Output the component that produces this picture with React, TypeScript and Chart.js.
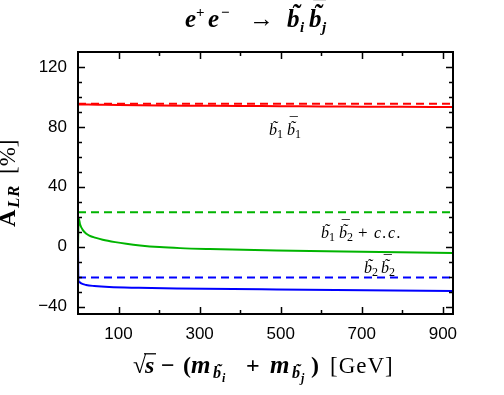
import React, { useEffect, useRef } from "react";
import { Chart, registerables } from "chart.js";

Chart.register(...registerables);

// ---- data ----
const xTicks = [0, 100, 200, 300, 400, 500, 600, 700, 800, 900];
const yTicks = [-40, -30, -20, -10, 0, 10, 20, 30, 40, 50, 60, 70, 80, 90, 100, 110, 120];

const redSolidX = [0, 50, 100, 200, 300, 400, 500, 600, 700, 800, 925];
const redSolidY = [95.0, 94.8, 94.6, 94.3, 94.1, 93.9, 93.8, 93.6, 93.5, 93.4, 93.3];
const redDashX = [0, 925];
const redDashY = [95.4, 95.4];

const greenSolidX = [0, 1.7, 5, 11.6, 19.8, 28, 42, 61, 92, 119, 153, 201, 252, 325, 490, 655, 925];
const greenSolidY = [0, 19, 15, 11.2, 8.8, 7.4, 6.0, 4.6, 3.0, 1.9, 0.8, -0.3, -1.0, -1.6, -2.6, -3.3, -4.2];
const greenDashX = [0, 925];
const greenDashY = [23.0, 23.0];

const blueSolidX = [0, 1, 3, 8, 20, 40, 77, 150, 243, 490, 925];
const blueSolidY = [0, -22.5, -23.6, -24.6, -25.6, -26.3, -27, -27.5, -27.9, -28.6, -29.6];
const blueDashX = [0, 925];
const blueDashY = [-20.7, -20.7];

const RED = "#ff0000";
const GREEN = "#00b400";
const BLUE = "#0000ff";

type Seg = { t: string; f: string; x: number; dy?: number; acc?: string[]; over?: number; ls?: number };

const SERIF = '"Liberation Serif", "Times New Roman", serif';

function fontSize(f: string) {
  return parseFloat(/(\d+(\.\d+)?)px/.exec(f)![1]);
}

// draw text pieces at given x offsets (relative to ox) on baseline oy
function drawAbs(ctx: CanvasRenderingContext2D, segs: Seg[], ox: number, oy: number) {
  for (const s of segs) {
    ctx.save();
    ctx.textAlign = "left";
    ctx.textBaseline = "alphabetic";
    ctx.font = s.f;
    (ctx as any).letterSpacing = (s.ls || 0) + "px";
    const w = ctx.measureText(s.t).width;
    const cx = ox + s.x;
    const by = oy + (s.dy || 0);
    ctx.fillText(s.t, cx, by);
    (ctx as any).letterSpacing = "0px";
    const size = fontSize(s.f);
    if (s.acc) {
      const offs = [0.2, 0.36];
      ctx.textAlign = "center";
      s.acc.forEach((a, i) => {
        ctx.fillText(a, cx + w * 0.5 + size * 0.1, by - size * offs[i]);
      });
    }
    if (s.over) {
      ctx.lineWidth = 1.3;
      ctx.beginPath();
      ctx.moveTo(cx - 1, by - size * 0.8);
      ctx.lineTo(cx + s.over, by - size * 0.8);
      ctx.stroke();
    }
    ctx.restore();
  }
}

const bi = (px: number) => `bold italic ${px}px ${SERIF}`;
const b = (px: number) => `bold ${px}px ${SERIF}`;
const rg = (px: number) => `${px}px ${SERIF}`;
const it = (px: number) => `italic ${px}px ${SERIF}`;

const decor = {
  id: "decor",
  afterDraw(chart: any) {
    const ctx: CanvasRenderingContext2D = chart.ctx;
    const { left, right, top, bottom } = chart.chartArea;
    const xs = chart.scales.x;
    const ys = chart.scales.y;
    ctx.save();
    ctx.strokeStyle = "#000";
    ctx.fillStyle = "#000";
    // ticks
    ctx.lineWidth = 1.5;
    ctx.beginPath();
    for (const v of xTicks) {
      if (v === 0) continue;
      const px = Math.round(xs.getPixelForValue(v)) + 0.5;
      const len = v % 200 === 100 ? 7 : 4;
      ctx.moveTo(px, bottom);
      ctx.lineTo(px, bottom - len);
      ctx.moveTo(px, top);
      ctx.lineTo(px, top + len);
    }
    for (const v of yTicks) {
      const py = Math.round(ys.getPixelForValue(v)) + 0.5;
      const len = v % 40 === 0 ? 7 : 4;
      ctx.moveTo(left, py);
      ctx.lineTo(left + len, py);
      ctx.moveTo(right, py);
      ctx.lineTo(right - len, py);
    }
    ctx.stroke();
    // frame
    ctx.lineWidth = 2;
    ctx.strokeRect(left, top, right - left, bottom - top);

    // curve labels
    const L = 16, S = 12;
    drawAbs(ctx, [
      { t: "b", f: it(L), x: 0, acc: ["˜"] },
      { t: "1", f: rg(S), x: 8, dy: 3 },
      { t: "b", f: it(L), x: 18, acc: ["˜", "¯"] },
      { t: "1", f: rg(S), x: 26, dy: 3 },
    ], 269, 135);
    drawAbs(ctx, [
      { t: "b", f: it(L), x: 0, acc: ["˜"] },
      { t: "1", f: rg(S), x: 8, dy: 3 },
      { t: "b", f: it(L), x: 18, acc: ["˜", "¯"] },
      { t: "2", f: rg(S), x: 26, dy: 3 },
      { t: "+", f: rg(L + 1), x: 37 },
      { t: "c.c.", f: it(L), x: 53, ls: 1.5 },
    ], 321, 238);
    drawAbs(ctx, [
      { t: "b", f: it(L), x: 0, acc: ["˜"] },
      { t: "2", f: rg(S), x: 8, dy: 3 },
      { t: "b", f: it(L), x: 17, acc: ["˜", "¯"] },
      { t: "2", f: rg(S), x: 25, dy: 3 },
    ], 364, 273);

    // title
    drawAbs(ctx, [
      { t: "e", f: bi(25), x: 0 },
      { t: "+", f: b(15), x: 11, dy: -10 },
      { t: "e", f: bi(25), x: 23 },
      { t: "−", f: b(15), x: 36, dy: -10 },
      { t: "→", f: b(25), x: 64 },
      { t: "b", f: bi(25), x: 102, acc: ["˜"] },
      { t: "i", f: bi(15), x: 115, dy: 5 },
      { t: "b", f: bi(25), x: 124, acc: ["˜", "¯"] },
      { t: "j", f: bi(15), x: 137, dy: 5 },
    ], 185, 27);

    // x axis title
    drawAbs(ctx, [
      { t: "√", f: b(24), x: 0 },
      { t: "s", f: bi(24), x: 12, over: 11 },
      { t: "−", f: b(24), x: 28 },
      { t: "(", f: b(24), x: 50 },
      { t: "m", f: bi(25), x: 58 },
      { t: "b", f: bi(16), x: 80, dy: 5, acc: ["˜"] },
      { t: "i", f: bi(12), x: 89, dy: 9 },
      { t: "+", f: b(24), x: 113 },
      { t: "m", f: bi(25), x: 137 },
      { t: "b", f: bi(16), x: 159, dy: 5, acc: ["˜"] },
      { t: "j", f: bi(12), x: 168, dy: 9 },
      { t: ")", f: b(24), x: 178 },
      { t: "[GeV]", f: rg(23), x: 197, ls: 1 },
    ], 133, 373);

    // y axis title (rotated, reading bottom to top)
    ctx.save();
    ctx.translate(15, 227);
    ctx.rotate(-Math.PI / 2);
    drawAbs(ctx, [
      { t: "A", f: b(24), x: 0 },
      { t: "LR", f: bi(17), x: 19, dy: 4, ls: 0.5 },
      { t: "[%]", f: rg(23), x: 53 },
    ], 0, 0);
    ctx.restore();

    ctx.restore();
  },
};

function pts(xs: number[], ys: number[]) {
  return xs.map((x, i) => ({ x, y: ys[i] }));
}

export default function App() {
  const ref = useRef<HTMLCanvasElement>(null);
  useEffect(() => {
    const line = (d: any[], color: string, dashed: boolean) => ({
      data: d,
      borderColor: color,
      backgroundColor: color,
      borderWidth: 2,
      borderDash: dashed ? [8, 5] : [],
      pointRadius: 0,
      showLine: true,
      fill: false,
      cubicInterpolationMode: "monotone" as const,
    });
    const chart = new Chart(ref.current!, {
      type: "scatter",
      data: {
        datasets: [
          line(pts(redDashX, redDashY), RED, true),
          line(pts(redSolidX, redSolidY), RED, false),
          line(pts(greenDashX, greenDashY), GREEN, true),
          line(pts(greenSolidX, greenSolidY), GREEN, false),
          line(pts(blueDashX, blueDashY), BLUE, true),
          line(pts(blueSolidX, blueSolidY), BLUE, false),
        ],
      },
      options: {
        responsive: false,
        animation: false,
        layout: { padding: { top: 52, right: 51, left: 0, bottom: 0 } },
        plugins: { legend: { display: false }, tooltip: { enabled: false }, title: { display: false } },
        scales: {
          x: {
            type: "linear",
            min: 0,
            max: 925,
            grid: { display: false, drawTicks: false },
            border: { display: false },
            afterBuildTicks: (s: any) => {
              s.ticks = xTicks.map((v) => ({ value: v }));
            },
            afterFit: (s: any) => {
              s.height = 81;
            },
            ticks: {
              autoSkip: false,
              maxRotation: 0,
              padding: 10,
              color: "#000",
              font: { family: '"Liberation Sans", Arial, sans-serif', size: 17 },
              callback: (v: any) => (Number(v) % 200 === 100 ? String(v) : ""),
            },
          },
          y: {
            type: "linear",
            min: -45,
            max: 130,
            grid: { display: false, drawTicks: false },
            border: { display: false },
            afterBuildTicks: (s: any) => {
              s.ticks = yTicks.map((v) => ({ value: v }));
            },
            afterFit: (s: any) => {
              s.width = 78;
            },
            ticks: {
              autoSkip: false,
              padding: 11,
              color: "#000",
              font: { family: '"Liberation Sans", Arial, sans-serif', size: 17 },
              callback: (v: any) => {
                const n = Number(v);
                if (n % 40 !== 0) return "";
                return n < 0 ? "−" + Math.abs(n) : String(n);
              },
            },
          },
        },
      },
      plugins: [decor],
    });
    return () => chart.destroy();
  }, []);
  return (
    <div style={{ position: "absolute", left: 0, top: 0, width: 504, height: 395, background: "#fff" }}>
      <canvas ref={ref} width={504} height={395} />
    </div>
  );
}
